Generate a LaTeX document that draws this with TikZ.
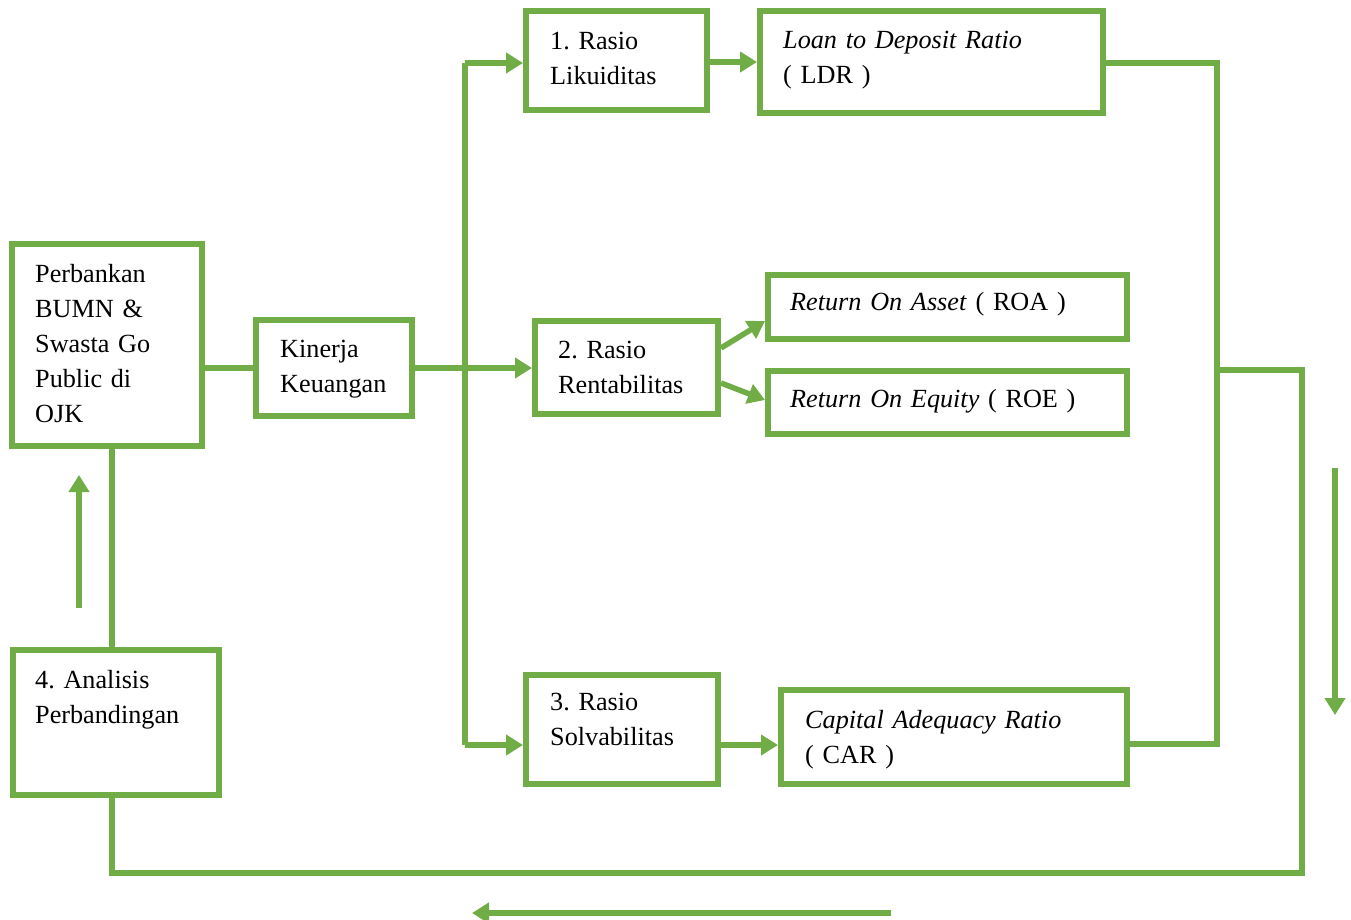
\documentclass[tikz,border=0pt]{standalone}
\usepackage{fontspec}
\setmainfont{Liberation Serif}
\usetikzlibrary{arrows.meta}
\definecolor{og}{HTML}{70AD47}
\frenchspacing
\tikzset{
  box/.style={draw=og, line width=6pt, fill=white, inner sep=0pt, outer sep=3pt, minimum width=#1},
  txt/.style={anchor=base west, inner sep=0pt, text width=360pt, align=left, font=\fontsize{26.2}{35}\selectfont\frenchspacing},
  con/.style={draw=og, line width=5.5pt, line join=miter},
  arr/.style={con, -{Triangle[length=17pt,width=20pt]}}
}
\begin{document}
\begin{tikzpicture}[x=1pt,y=-1pt]
\useasboundingbox (0,0) rectangle (1351,919);
% boxes
\node[box=190pt, minimum height=202pt] (perb) at (107,345) {};
\node[box=156pt, minimum height=96pt] (kin) at (334,368) {};
\node[box=181pt, minimum height=99pt] (r1) at (616.5,60.5) {};
\node[box=343pt, minimum height=102pt] (ldr) at (931.5,62) {};
\node[box=183pt, minimum height=93pt] (r2) at (626.5,367.5) {};
\node[box=359pt, minimum height=64pt] (roa) at (947.5,307) {};
\node[box=359pt, minimum height=63pt] (roe) at (947.5,402.5) {};
\node[box=192pt, minimum height=109pt] (r3) at (622,729.5) {};
\node[box=346pt, minimum height=94pt] (car) at (954,737) {};
\node[box=206pt, minimum height=145pt] (ana) at (116,722.5) {};
% texts
\node[txt] (tperb) at (35,282) {Perbankan\\BUMN \&\\Swasta Go\\Public di\\OJK};
\node[txt] (tkin) at (280,357) {Kinerja\\Keuangan};
\node[txt] (tr1) at (550,49) {1. Rasio\\Likuiditas};
\node[txt] (tldr) at (783,48) {\textit{Loan to Deposit Ratio}\\( LDR )};
\node[txt] (tr2) at (558,358) {2. Rasio\\Rentabilitas};
\node[txt] (troa) at (790,310) {\textit{Return On Asset} ( ROA )};
\node[txt] (troe) at (790,407) {\textit{Return On Equity} ( ROE )};
\node[txt] (tr3) at (550,710) {3. Rasio\\Solvabilitas};
\node[txt] (tcar) at (805,728) {\textit{Capital Adequacy Ratio}\\( CAR )};
\node[txt] (tana) at (35,688) {4. Analisis\\Perbandingan};
% junction coordinates
\coordinate (jt) at (465,63);
\coordinate (jb) at (465,745);
\coordinate (rt) at (1217,63);
\coordinate (rb) at (1217,744);
\coordinate (rm) at (1217,370);
\coordinate (rr) at (1302,370);
\coordinate (rl) at (1302,873);
\coordinate (lb) at (112,873);
\coordinate (ua1) at (79,608);
\coordinate (ua2) at (79,475);
\coordinate (da1) at (1335,468);
\coordinate (da2) at (1335,715);
\coordinate (la1) at (891,913);
\coordinate (la2) at (472,913);
% connectors
\draw[con] (perb.east |- kin.west) -- (kin.west);
\draw[arr] (kin.east) -- (r2.west |- kin.east);
\draw[con] (jt) -- (jb);
\draw[arr] (jt) -- (r1.west |- jt);
\draw[arr] (jb) -- (r3.west |- jb);
\draw[arr] (r1.east |- ldr.west) -- (ldr.west);
\draw[arr] ([yshift=19.5pt]r2.east) -- ([yshift=-14pt]roa.west);
\draw[arr] ([yshift=-15.5pt]r2.east) -- ([yshift=2.5pt]roe.west);
\draw[arr] (r3.east |- jb) -- (car.west |- jb);
\draw[con] (ldr.east |- rt) -- (rt) -- (rb) -- (car.east |- rb);
\draw[con] (rm) -- (rr) -- (rl) -- (lb) -- (lb |- ana.south);
\draw[con] (lb |- ana.north) -- (lb |- perb.south);
\draw[arr] (ua1) -- (ua2);
\draw[arr] (da1) -- (da2);
\draw[arr] (la1) -- (la2);
\end{tikzpicture}
\end{document}
